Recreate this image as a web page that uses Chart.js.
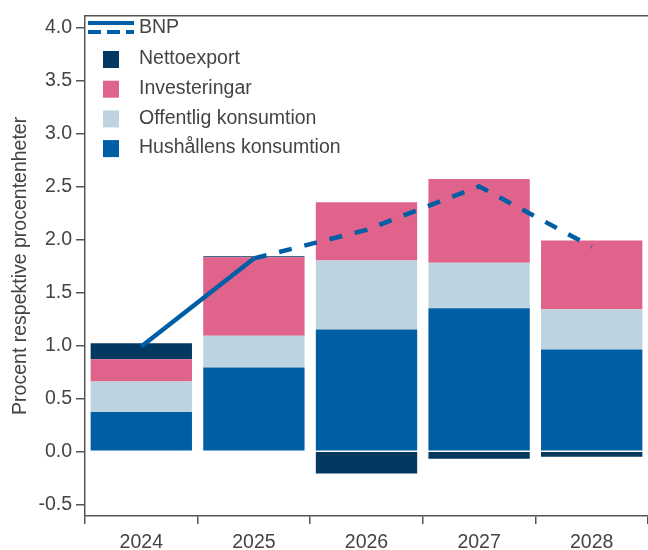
<!DOCTYPE html>
<html>
<head>
<meta charset="utf-8">
<script src="https://cdn.jsdelivr.net/npm/chart.js@4/dist/chart.umd.min.js"></script>
<style>
  html, body { margin: 0; padding: 0; background: #fff; }
  #wrap { width: 648px; height: 550px; }
</style>
</head>
<body>
<div id="wrap"><canvas id="myChart" width="648" height="550"></canvas></div>
<script>
// Data
const years = ['2024', '2025', '2026', '2027', '2028'];
const hushall = [0.37, 0.79, 1.15, 1.35, 0.96];
const offentlig = [0.29, 0.30, 0.65, 0.43, 0.38];
const investeringar = [0.21, 0.74, 0.55, 0.79, 0.65];
const nettoexport = [0.15, 0.01, -0.21, -0.07, -0.05];
const bnp = [0.99, 1.82, 2.09, 2.50, 1.93];
const yTicks = [-0.5, 0, 0.5, 1, 1.5, 2, 2.5, 3, 3.5, 4];

const textColor = '#444';
const axisColor = '#555';
const font = { family: 'Liberation Sans, Arial, sans-serif', size: 19.5 };

// legend drawn by hand inside the plot, top left
const legendPlugin = {
  id: 'ownLegend',
  afterDraw(chart) {
    const ctx = chart.ctx;
    const area = chart.chartArea;
    ctx.save();
    // top frame line
    ctx.strokeStyle = axisColor;
    ctx.lineWidth = 1.5;
    ctx.beginPath();
    ctx.moveTo(area.left, area.top);
    ctx.lineTo(area.right, area.top);
    ctx.stroke();

    ctx.font = font.size + 'px ' + font.family;
    ctx.fillStyle = textColor;
    ctx.textBaseline = 'middle';
    // BNP: solid + dashed icon
    ctx.strokeStyle = '#005EA5';
    ctx.lineWidth = 4;
    ctx.beginPath();
    ctx.moveTo(88, 23); ctx.lineTo(134, 23);
    ctx.stroke();
    ctx.setLineDash([13, 6]);
    ctx.beginPath();
    ctx.moveTo(88, 32); ctx.lineTo(134, 32);
    ctx.stroke();
    ctx.setLineDash([]);
    ctx.fillText('BNP', 139, 28);

    const bars = chart.data.datasets.filter(d => d.type === 'bar').slice().reverse();
    bars.forEach((d, i) => {
      const y = 59 + i * 29.7;
      ctx.fillStyle = d.backgroundColor;
      ctx.fillRect(103, y - 8, 16, 17);
      ctx.fillStyle = textColor;
      ctx.fillText(d.label, 139, y);
    });
    ctx.restore();
  }
};

const ctx = document.getElementById('myChart').getContext('2d');
const myChart = new Chart(ctx, {
  data: {
    labels: years,
    datasets: [
      {
        type: 'line',
        label: 'BNP',
        data: bnp,
        borderColor: '#005EA5',
        borderWidth: 4.5,
        pointRadius: 0,
        fill: false,
        stack: 'bnp',
        order: 0,
        segment: {
          borderDash: c => c.p0DataIndex >= 1 ? [13, 13] : undefined
        }
      },
      { type: 'bar', label: 'Hushållens konsumtion', data: hushall, backgroundColor: '#005EA5', order: 1 },
      { type: 'bar', label: 'Offentlig konsumtion', data: offentlig, backgroundColor: '#BDD4E0', order: 1 },
      { type: 'bar', label: 'Investeringar', data: investeringar, backgroundColor: '#E0638C', order: 1 },
      { type: 'bar', label: 'Nettoexport', data: nettoexport, backgroundColor: '#033861', order: 1 }
    ]
  },
  options: {
    responsive: false,
    animation: false,
    layout: { padding: { top: 12, right: 0, left: 0, bottom: 0 } },
    datasets: {
      bar: { barPercentage: 1, categoryPercentage: 0.9, borderWidth: 0, stack: 'komp' }
    },
    scales: {
      x: {
        stacked: true,
        offset: true,
        border: { color: axisColor, width: 1.5 },
        grid: { offset: true, drawOnChartArea: false, tickLength: 8, color: axisColor, lineWidth: 1.5 },
        ticks: { color: textColor, font: font, padding: 7 },
        afterFit: s => { s.height = 34; }
      },
      y: {
        stacked: true,
        min: -0.61,
        max: 4.11,
        border: { color: axisColor, width: 1.5 },
        grid: { drawOnChartArea: false, tickLength: 9, color: axisColor, lineWidth: 1.5 },
        afterBuildTicks: s => { s.ticks = yTicks.map(v => ({ value: v })); },
        ticks: {
          color: textColor,
          font: font,
          padding: 4,
          callback: v => v.toFixed(1)
        },
        title: {
          display: true,
          text: 'Procent respektive procentenheter',
          color: textColor,
          font: font,
          padding: { top: 9, bottom: 0 }
        },
        afterFit: s => { s.width = 85; }
      }
    },
    plugins: {
      legend: { display: false },
      tooltip: { enabled: false }
    }
  },
  plugins: [legendPlugin]
});
</script>
</body>
</html>
